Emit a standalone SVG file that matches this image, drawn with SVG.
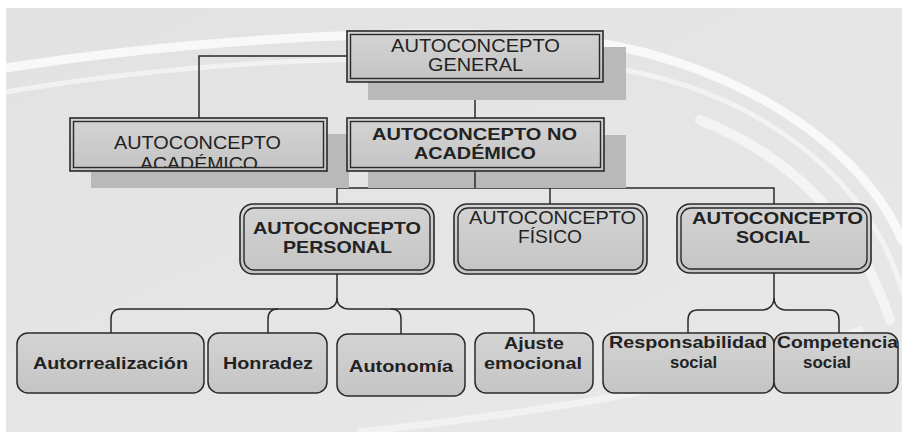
<svg xmlns="http://www.w3.org/2000/svg" width="902" height="432" viewBox="0 0 902 432">
<defs>
<style>
.bx{fill:url(#gBox);stroke:#2a2a2a;stroke-width:1.6}
.in{fill:none;stroke:#2a2a2a;stroke-width:1.4}
.sh{fill:#b9b9b9}
.rn{fill:url(#gBox);stroke:#2a2a2a;stroke-width:1.5}
.cn{fill:none;stroke:#2a2a2a;stroke-width:1.5}
.t{font-family:"Liberation Sans",Arial,sans-serif;fill:#222}
.r{font-size:17.5px}
.b{font-size:16.5px;font-weight:bold}
.s{font-size:16.5px;font-weight:bold}
.sw{fill:none;stroke:#ffffff;stroke-linecap:round}
</style>
<linearGradient id="gBox" x1="0" y1="0" x2="0" y2="1">
<stop offset="0" stop-color="#d4d4d4"/>
<stop offset="1" stop-color="#c4c4c4"/>
</linearGradient>
<linearGradient id="gBg" x1="0" y1="0" x2="1" y2="1">
<stop offset="0" stop-color="#e2e2e2"/>
<stop offset="1" stop-color="#e8e8e8"/>
</linearGradient>
<clipPath id="clipAcad"><rect x="70" y="118" width="257" height="49"/></clipPath>
</defs>
<rect x="0" y="0" width="902" height="432" fill="#ffffff"/>
<rect x="6" y="8" width="896" height="424" fill="url(#gBg)"/>
<g id="background">
<path class="sw" d="M 6,68 C 150,45 380,25 560,38 C 720,52 860,140 902,240" stroke-width="9" opacity="0.75"/>
<path class="sw" d="M 6,92 C 180,62 420,48 600,66 C 760,88 870,180 902,290" stroke-width="5" opacity="0.5"/>
<path class="sw" d="M 700,120 C 800,160 860,230 890,320" stroke-width="10" opacity="0.55"/>
<path class="sw" d="M 360,432 C 560,410 720,385 860,330" stroke-width="7" opacity="0.45"/>
</g>
<g id="connectors">
<path class="cn" d="M 347,56 H 199 V 118"/>
<path class="cn" d="M 475,82 V 118"/>
<path class="cn" d="M 475,171 V 188"/>
<path class="cn" d="M 337,204 V 188 H 774 V 204"/>
<path class="cn" d="M 550,188 V 204"/>
<path class="cn" d="M 337,274 V 298 C 337,305 332,309 325,309 H 121 Q 111,309 111,319 V 333"/>
<path class="cn" d="M 337,298 C 337,305 342,309 349,309 H 524 Q 534,309 534,319 V 333"/>
<path class="cn" d="M 268,333 V 319 Q 268,309 278,309"/>
<path class="cn" d="M 401,334 V 319 Q 401,309 391,309"/>
<path class="cn" d="M 774,273 V 298 C 774,305 769,310 762,310 H 698 Q 688,310 688,320 V 333"/>
<path class="cn" d="M 774,298 C 774,305 779,310 786,310 H 829 Q 839,310 839,320 V 333"/>
</g>
<g id="general">
<rect class="sh" x="368" y="47" width="258" height="53"/>
<rect class="bx" x="347" y="31" width="256" height="51"/>
<rect class="in" x="350.5" y="34.5" width="249" height="44"/>
<text class="t r" x="391" y="52" textLength="169" lengthAdjust="spacingAndGlyphs">AUTOCONCEPTO</text>
<text class="t r" x="428" y="71" textLength="95" lengthAdjust="spacingAndGlyphs">GENERAL</text>
</g>
<g id="academico">
<rect class="sh" x="91" y="134" width="258" height="54"/>
<rect class="bx" x="70" y="118" width="257" height="53"/>
<text class="t r" x="114" y="149" textLength="167" lengthAdjust="spacingAndGlyphs">AUTOCONCEPTO</text>
<text class="t r" x="140" y="169.5" textLength="118" lengthAdjust="spacingAndGlyphs" clip-path="url(#clipAcad)">ACADÉMICO</text>
<rect class="in" x="73.5" y="121.5" width="250" height="46"/>
</g>
<g id="no-academico">
<rect class="sh" x="368" y="135" width="258" height="53"/>
<path class="cn" d="M 475,171 V 188"/>
<rect class="bx" x="347" y="118" width="257" height="53"/>
<rect class="in" x="350.5" y="121.5" width="250" height="46"/>
<text class="t b" x="372" y="139.5" textLength="205" lengthAdjust="spacingAndGlyphs">AUTOCONCEPTO NO</text>
<text class="t b" x="414" y="159" textLength="122" lengthAdjust="spacingAndGlyphs">ACADÉMICO</text>
</g>
<g id="personal">
<rect class="bx" x="240" y="204" width="194" height="70" rx="13"/>
<rect class="in" x="244" y="208" width="186" height="62" rx="10"/>
<text class="t b" x="253" y="234" textLength="168" lengthAdjust="spacingAndGlyphs">AUTOCONCEPTO</text>
<text class="t b" x="283" y="253" textLength="109" lengthAdjust="spacingAndGlyphs">PERSONAL</text>
</g>
<g id="fisico">
<rect class="bx" x="454" y="204" width="193" height="70" rx="13"/>
<rect class="in" x="458" y="208" width="185" height="62" rx="10"/>
<text class="t r" x="469" y="224" textLength="167" lengthAdjust="spacingAndGlyphs">AUTOCONCEPTO</text>
<text class="t r" x="518" y="243" textLength="64" lengthAdjust="spacingAndGlyphs">FÍSICO</text>
</g>
<g id="social">
<rect class="bx" x="677" y="204" width="194" height="69" rx="13"/>
<rect class="in" x="681" y="208" width="186" height="61" rx="10"/>
<text class="t b" x="692" y="224" textLength="171" lengthAdjust="spacingAndGlyphs">AUTOCONCEPTO</text>
<text class="t b" x="736" y="243" textLength="74" lengthAdjust="spacingAndGlyphs">SOCIAL</text>
</g>
<g id="autorrealizacion">
<rect class="rn" x="17" y="333" width="187" height="60" rx="11"/>
<text class="t s" x="33" y="368.5" textLength="155" lengthAdjust="spacingAndGlyphs">Autorrealización</text>
</g>
<g id="honradez">
<rect class="rn" x="208" y="333" width="119" height="60" rx="11"/>
<text class="t s" x="223" y="368.5" textLength="90" lengthAdjust="spacingAndGlyphs">Honradez</text>
</g>
<g id="autonomia">
<rect class="rn" x="337" y="334" width="128" height="62" rx="11"/>
<text class="t s" x="349" y="371.5" textLength="104" lengthAdjust="spacingAndGlyphs">Autonomía</text>
</g>
<g id="ajuste">
<rect class="rn" x="475" y="333" width="118" height="60" rx="11"/>
<text class="t s" x="504" y="348.5" textLength="60" lengthAdjust="spacingAndGlyphs">Ajuste</text>
<text class="t s" x="484" y="368.5" textLength="98" lengthAdjust="spacingAndGlyphs">emocional</text>
</g>
<g id="responsabilidad">
<rect class="rn" x="603" y="333" width="171" height="60" rx="11"/>
<text class="t s" x="609" y="347.5" textLength="158" lengthAdjust="spacingAndGlyphs">Responsabilidad</text>
<text class="t s" x="670" y="367.5" textLength="47" lengthAdjust="spacingAndGlyphs">social</text>
</g>
<g id="competencia">
<rect class="rn" x="774" y="333" width="124" height="60" rx="11"/>
<text class="t s" x="777" y="347.5" textLength="121" lengthAdjust="spacingAndGlyphs">Competencia</text>
<text class="t s" x="803" y="367.5" textLength="48" lengthAdjust="spacingAndGlyphs">social</text>
</g>
</svg>
